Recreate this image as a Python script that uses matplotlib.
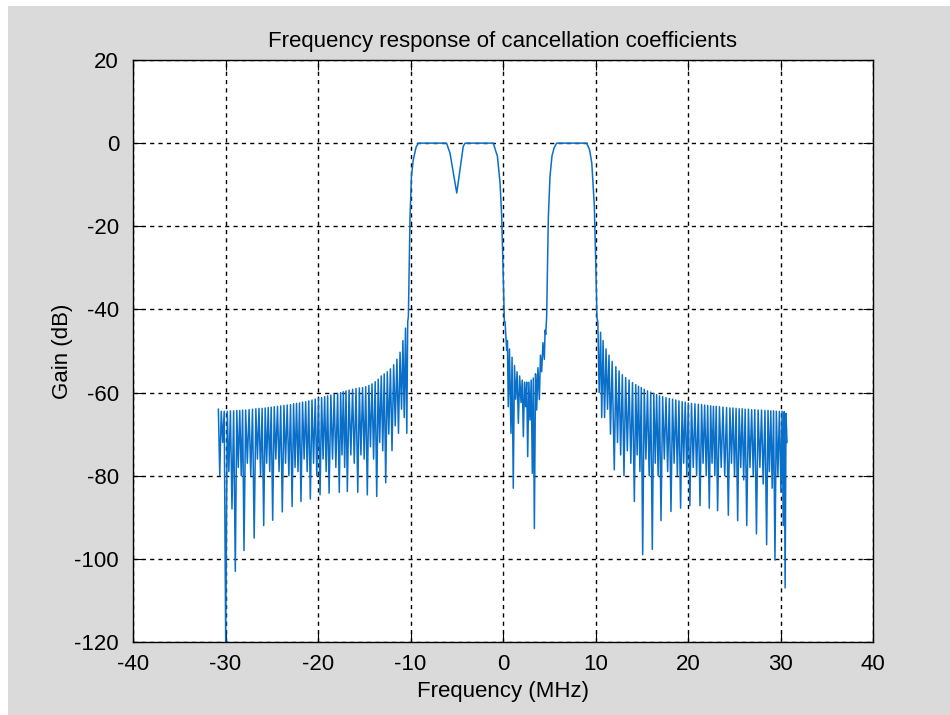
import matplotlib.pyplot as plt
from matplotlib.patches import Rectangle

# Left stop band (-30.7 .. -10.2 MHz): alternating lobe peak / null
left_f = [-30.77, -30.62, -30.46, -30.30, -30.14, -29.98, -29.81, -29.64, -29.47, -29.30,
          -29.12, -28.94, -28.78, -28.62, -28.46, -28.30, -28.15, -28.00, -27.82, -27.64,
          -27.45, -27.27, -27.08, -26.90, -26.72, -26.55, -26.38, -26.21, -26.04, -25.87,
          -25.71, -25.55, -25.38, -25.22, -25.06, -24.90, -24.73, -24.56, -24.38, -24.21,
          -24.03, -23.86, -23.68, -23.51, -23.33, -23.15, -22.97, -22.80, -22.64, -22.48,
          -22.32, -22.16, -22.00, -21.84, -21.67, -21.50, -21.33, -21.17, -21.00, -20.83,
          -20.65, -20.48, -20.30, -20.13, -19.95, -19.78, -19.61, -19.45, -19.28, -19.12,
          -18.96, -18.80, -18.61, -18.43, -18.25, -18.07, -17.88, -17.70, -17.55, -17.41,
          -17.26, -17.12, -16.97, -16.83, -16.64, -16.45, -16.26, -16.08, -15.89, -15.70,
          -15.53, -15.36, -15.18, -15.01, -14.84, -14.67, -14.50, -14.33, -14.16, -13.99,
          -13.82, -13.65, -13.49, -13.33, -13.16, -13.00, -12.84, -12.68, -12.51, -12.35,
          -12.17, -12.00, -11.82, -11.65, -11.47, -11.30, -11.13, -10.97, -10.82, -10.68,
          -10.54, -10.40, -10.30]
left_g = [-64.0, -80.0, -64.5, -72.0, -64.5, -120.0, -64.5, -79.0, -64.4, -88.0,
          -64.4, -103.0, -64.3, -78.0, -64.3, -80.0, -64.2, -98.0, -64.2, -77.0,
          -64.1, -80.0, -64.0, -95.0, -63.9, -76.0, -63.8, -80.0, -63.8, -92.0,
          -63.7, -77.0, -63.6, -79.0, -63.5, -90.7, -63.4, -76.0, -63.3, -79.0,
          -63.2, -88.7, -63.1, -77.0, -63.0, -80.0, -62.9, -87.4, -62.7, -78.0,
          -62.6, -79.0, -62.5, -86.2, -62.3, -76.0, -62.2, -79.0, -62.0, -85.6,
          -61.8, -77.0, -61.6, -80.0, -61.4, -84.6, -61.2, -76.0, -61.0, -79.0,
          -60.8, -84.2, -60.6, -76.0, -60.4, -78.0, -60.2, -84.0, -60.0, -75.0,
          -59.8, -78.0, -59.6, -83.8, -59.4, -75.0, -59.2, -77.0, -59.0, -84.0,
          -58.9, -75.0, -58.8, -76.0, -58.6, -84.6, -58.3, -73.0, -57.9, -76.0,
          -57.4, -85.0, -56.8, -72.0, -56.0, -74.0, -55.5, -81.7, -55.0, -70.0,
          -54.3, -74.0, -53.3, -68.0, -52.0, -69.8, -50.3, -64.0, -47.5, -66.0,
          -44.5, -69.8, -43.0]

# Pass band 1 (with notch near -5 MHz)
band1_f = [-10.23, -10.05, -9.90, -9.70, -9.40, -9.16, -6.10, -5.73, -5.37, -5.00,
           -4.65, -4.30, -4.10, -1.05, -0.60, -0.32, -0.14, 0.04, 0.15]
band1_g = [-41.7, -17.7, -8.0, -4.0, -1.0, 0.0, 0.0, -2.4, -7.2, -12.0,
           -6.4, -0.8, 0.0, 0.0, -3.2, -9.6, -17.6, -33.6, -43.0]

# Gap between the pass bands (0.2 .. 4.7 MHz)
mid_f = [0.22, 0.40, 0.48, 0.57, 0.70, 0.86, 0.98, 1.11, 1.24, 1.37,
         1.52, 1.66, 1.80, 1.95, 2.08, 2.20, 2.33, 2.45, 2.56, 2.67,
         2.80, 2.92, 3.05, 3.17, 3.28, 3.39, 3.52, 3.64, 3.78, 3.93,
         4.05, 4.18, 4.32, 4.47, 4.55, 4.62, 4.72]
mid_g = [-43.0, -49.8, -47.5, -63.4, -49.5, -69.8, -51.5, -83.0, -53.5, -61.6,
         -55.0, -67.4, -56.0, -62.4, -57.0, -70.6, -57.5, -63.4, -57.5, -75.4,
         -57.5, -66.6, -57.0, -79.4, -56.5, -92.7, -55.5, -64.2, -54.0, -61.7,
         -51.0, -55.0, -48.0, -52.0, -45.0, -46.0, -41.7]

# Pass band 2
band2_f = [4.90, 5.08, 5.30, 5.55, 5.80, 9.05, 9.35, 9.60, 9.87, 10.02, 10.16]
band2_g = [-18.0, -8.0, -3.0, -1.0, 0.0, 0.0, -1.5, -4.8, -15.0, -28.0, -42.0]

# Right stop band (10.2 .. 30.7 MHz)
right_f = [10.25, 10.40, 10.55, 10.67, 10.82, 10.98, 11.14, 11.30, 11.46, 11.62,
           11.80, 12.03, 12.20, 12.38, 12.55, 12.72, 12.90, 13.08, 13.26, 13.44,
           13.63, 13.82, 14.00, 14.20, 14.35, 14.50, 14.65, 14.80, 14.95, 15.10,
           15.27, 15.45, 15.62, 15.80, 15.97, 16.14, 16.30, 16.46, 16.61, 16.77,
           16.92, 17.08, 17.26, 17.44, 17.62, 17.80, 17.98, 18.16, 18.33, 18.50,
           18.68, 18.85, 19.02, 19.20, 19.37, 19.53, 19.70, 19.87, 20.03, 20.20,
           20.38, 20.57, 20.75, 20.93, 21.12, 21.30, 21.47, 21.63, 21.80, 21.97,
           22.13, 22.30, 22.45, 22.60, 22.75, 22.90, 23.05, 23.20, 23.40, 23.59,
           23.78, 23.97, 24.17, 24.36, 24.53, 24.70, 24.86, 25.03, 25.20, 25.37,
           25.53, 25.70, 25.86, 26.02, 26.18, 26.35, 26.53, 26.70, 26.88, 27.05,
           27.22, 27.40, 27.58, 27.77, 27.95, 28.13, 28.32, 28.50, 28.65, 28.80,
           28.95, 29.10, 29.25, 29.40, 29.55, 29.72, 29.88, 30.05, 30.17, 30.30,
           30.40, 30.50, 30.60, 30.70]
right_g = [-43.0, -60.0, -45.5, -66.0, -47.5, -66.0, -49.5, -64.0, -51.0, -70.0,
           -52.5, -78.6, -53.8, -72.0, -54.8, -75.0, -55.7, -80.0, -56.4, -74.0,
           -57.0, -77.0, -57.6, -86.2, -58.1, -75.0, -58.5, -79.0, -58.8, -99.0,
           -59.2, -76.0, -59.6, -80.0, -59.9, -97.7, -60.2, -77.0, -60.5, -80.0,
           -60.8, -90.8, -61.0, -76.0, -61.2, -79.0, -61.4, -88.6, -61.6, -77.0,
           -61.8, -80.0, -62.0, -87.8, -62.2, -77.0, -62.3, -80.0, -62.5, -87.2,
           -62.6, -78.0, -62.7, -80.0, -62.8, -87.2, -62.9, -77.0, -63.0, -80.0,
           -63.1, -87.8, -63.2, -77.0, -63.3, -80.0, -63.3, -88.4, -63.4, -78.0,
           -63.5, -80.0, -63.6, -89.5, -63.7, -77.0, -63.7, -80.0, -63.8, -90.8,
           -63.9, -78.0, -63.9, -81.0, -64.0, -92.0, -64.0, -78.0, -64.1, -80.0,
           -64.1, -94.0, -64.2, -78.0, -64.2, -82.0, -64.3, -96.6, -64.3, -79.0,
           -64.4, -83.0, -64.4, -100.3, -64.5, -80.0, -64.5, -84.0, -64.5, -92.0,
           -64.6, -107.0, -65.0, -72.0]

freq = left_f + band1_f + mid_f + band2_f + right_f
gain = left_g + band1_g + mid_g + band2_g + right_g

plt.rcParams['font.family'] = ['Liberation Sans', 'DejaVu Sans']
plt.rcParams['axes.unicode_minus'] = False

fig = plt.figure(figsize=(9.5, 7.15), dpi=100, facecolor='white')
# MATLAB grey figure background, small white margin left / top
fig.patches.append(Rectangle((8 / 950, 0), 1, 1 - 6 / 715, transform=fig.transFigure,
                             facecolor='#dadada', edgecolor='none', zorder=-10))

ax = fig.add_axes([133 / 950, 1 - 642 / 715, 740 / 950, 582 / 715])
ax.plot(freq, gain, color='#0a6fc8', linewidth=1.1)

ax.set_xlim(-40, 40)
ax.set_ylim(-120, 20)
ax.set_xticks(range(-40, 41, 10))
ax.set_yticks(range(-120, 21, 20))
ax.grid(True, color='black', linestyle=(0, (3, 3)), linewidth=1.0)
ax.tick_params(direction='in', top=True, right=True, length=7, labelsize=16)
ax.tick_params(axis='x', pad=9)
ax.tick_params(axis='y', pad=10)
for s in ax.spines.values():
    s.set_linewidth(1.0)

ax.set_title('Frequency response of cancellation coefficients', fontsize=16, pad=9)
ax.set_xlabel('Frequency (MHz)', fontsize=16, labelpad=4)
ax.set_ylabel('Gain (dB)', fontsize=16, labelpad=1)

fig.savefig('out.png', dpi=100, facecolor=fig.get_facecolor())
